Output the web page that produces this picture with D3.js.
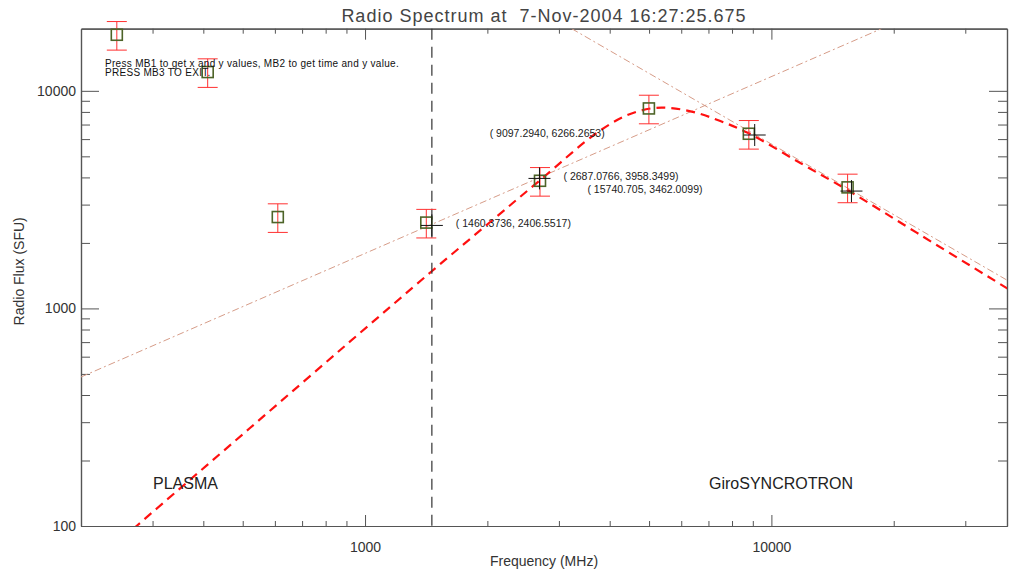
<!DOCTYPE html>
<html>
<head>
<meta charset="utf-8">
<script src="https://cdn.jsdelivr.net/npm/d3@7"></script>
<style>
  body { margin: 0; background: #fff; }
  svg { display: block; font-family: "Liberation Sans", Arial, sans-serif; }
  text { white-space: pre; }
</style>
</head>
<body>
<svg id="chart" width="1013" height="570"></svg>
<script>
// Observed spectrum (RSTN frequencies) with 15% uncertainties
const freqs   = [245, 410, 610, 1415, 2695, 4995, 8800, 15400];
const flux    = [18100, 12200, 2630, 2480, 3860, 8300, 6350, 3600];
const fluxErr = [2715, 1830, 395, 372, 579, 1245, 953, 540];

// Gyrosynchrotron fit curve
const fitFreq = [222, 274, 521, 919, 1462, 2032, 2698, 3686, 4369, 5036, 5638, 6500, 7487, 8774, 11786, 15390, 23280, 38800];
const fitFlux = [71, 100, 282, 705, 1486, 2495, 3890, 6332, 7660, 8292, 8337, 7950, 7263, 6397, 4656, 3500, 2173, 1209];

// Power-law segments (optically thick / thin)
const thickFreq = [200, 18660];
const thickFlux = [484, 19300];
const thinFreq  = [3226, 38000];
const thinFlux  = [19300, 1349];

// Plasma / gyrosynchrotron separation frequency
const cutFreq = 1460.3736;

// Cursor readouts
const pickFreq = [1460.3736, 2687.0766, 15740.705, 9097.2940];
const pickFlux = [2406.5517, 3958.3499, 3462.0099, 6266.2653];
const pickText = ["( 1460.3736, 2406.5517)", "( 2687.0766, 3958.3499)", "( 15740.705, 3462.0099)", "( 9097.2940, 6266.2653)"];

// Axis ticks
const xMajor = [1000, 10000];
const xMinor = [300, 400, 500, 600, 700, 800, 900, 2000, 3000, 4000, 5000, 6000, 7000, 8000, 9000, 20000, 30000];
const yMajor = [100, 1000, 10000];
const yMinor = [200, 300, 400, 500, 600, 700, 800, 900, 2000, 3000, 4000, 5000, 6000, 7000, 8000, 9000];
const xDomain = [200, 38000];
const yDomain = [100, 19300];

const title = "Radio Spectrum at  7-Nov-2004 16:27:25.675";
const xTitle = "Frequency (MHz)";
const yTitle = "Radio Flux (SFU)";
const helpLines = ["Press MB1 to get x and y values, MB2 to get time and y value.", "PRESS MB3 TO EXIT."];
const regionLabels = ["PLASMA", "GiroSYNCROTRON"];

// ---- layout ----
const L = 81, R = 1007, T = 28.7, B = 526;
const svg = d3.select("#chart");
const axisColor = "#555";
const textColor = "#333";

const x = d3.scaleLog().domain(xDomain).range([L, R]);
const y = d3.scaleLog().domain(yDomain).range([B, T]);

svg.append("rect").attr("width", 1013).attr("height", 570).attr("fill", "#fff");

svg.append("defs").append("clipPath").attr("id", "plot")
  .append("rect").attr("x", L).attr("y", T).attr("width", R - L).attr("height", B - T);

// ---- axes (ticks pointing inward on all four sides) ----
function styleAxis(g) {
  g.select(".domain").attr("stroke", axisColor).attr("stroke-width", 1.2);
  g.selectAll(".tick line").attr("stroke", axisColor).attr("stroke-width", 1);
  g.selectAll(".tick text").attr("fill", textColor).attr("font-size", 14)
    .attr("font-family", "Liberation Sans, Arial, sans-serif");
}
const noFmt = () => "";

svg.append("g").attr("transform", `translate(0,${B})`)
  .call(d3.axisBottom(x).tickValues(xMajor).tickSize(-11).tickSizeOuter(0).tickPadding(16).tickFormat(d3.format("d")))
  .call(styleAxis);
svg.append("g").attr("transform", `translate(0,${B})`)
  .call(d3.axisBottom(x).tickValues(xMinor).tickSize(-5).tickSizeOuter(0).tickFormat(noFmt))
  .call(styleAxis);
svg.append("g").attr("transform", `translate(0,${T})`)
  .call(d3.axisTop(x).tickValues(xMajor).tickSize(-11).tickSizeOuter(0).tickFormat(noFmt))
  .call(styleAxis);
svg.append("g").attr("transform", `translate(0,${T})`)
  .call(d3.axisTop(x).tickValues(xMinor).tickSize(-5).tickSizeOuter(0).tickFormat(noFmt))
  .call(styleAxis);

svg.append("g").attr("transform", `translate(${L},0)`)
  .call(d3.axisLeft(y).tickValues(yMajor).tickSize(-18).tickSizeOuter(0).tickPadding(5).tickFormat(d3.format("d")))
  .call(styleAxis);
svg.append("g").attr("transform", `translate(${L},0)`)
  .call(d3.axisLeft(y).tickValues(yMinor).tickSize(-9).tickSizeOuter(0).tickFormat(noFmt))
  .call(styleAxis);
svg.append("g").attr("transform", `translate(${R},0)`)
  .call(d3.axisRight(y).tickValues(yMajor).tickSize(-18).tickSizeOuter(0).tickFormat(noFmt))
  .call(styleAxis);
svg.append("g").attr("transform", `translate(${R},0)`)
  .call(d3.axisRight(y).tickValues(yMinor).tickSize(-9).tickSizeOuter(0).tickFormat(noFmt))
  .call(styleAxis);

// ---- titles ----
svg.append("text").attr("x", (L + R) / 2).attr("y", 22).attr("text-anchor", "middle")
  .attr("font-size", 18).attr("letter-spacing", 1).attr("fill", "#444").text(title);
svg.append("text").attr("x", (L + R) / 2).attr("y", 566).attr("text-anchor", "middle")
  .attr("font-size", 14).attr("fill", textColor).text(xTitle);
svg.append("text").attr("transform", `translate(24,${(T + B) / 2 - 6}) rotate(-90)`)
  .attr("text-anchor", "middle").attr("font-size", 14).attr("fill", textColor).text(yTitle);

// ---- curves ----
const plot = svg.append("g").attr("clip-path", "url(#plot)");
const line = d3.line().x(d => x(d[0])).y(d => y(d[1]));

plot.append("path")
  .datum(d3.zip(thickFreq, thickFlux))
  .attr("d", line).attr("fill", "none")
  .attr("stroke", "#d69c88").attr("stroke-width", 1).attr("stroke-dasharray", "7,3,2,3");
plot.append("path")
  .datum(d3.zip(thinFreq, thinFlux))
  .attr("d", line).attr("fill", "none")
  .attr("stroke", "#d69c88").attr("stroke-width", 1).attr("stroke-dasharray", "7,3,2,3");

plot.append("path")
  .datum(d3.zip(fitFreq, fitFlux))
  .attr("d", line.curve(d3.curveCatmullRom.alpha(0.5)))
  .attr("fill", "none").attr("stroke", "#ff1010").attr("stroke-width", 2.2)
  .attr("stroke-dasharray", "9,6");

// separation frequency
svg.append("line")
  .attr("x1", x(cutFreq)).attr("x2", x(cutFreq)).attr("y1", T).attr("y2", B)
  .attr("stroke", "#333").attr("stroke-width", 1.2).attr("stroke-dasharray", "11,7");

// ---- data points with error bars ----
const pts = d3.range(freqs.length).map(i => ({ f: freqs[i], s: flux[i], e: fluxErr[i] }));
const eb = svg.append("g").attr("stroke", "#ff3030").attr("stroke-width", 1);
eb.selectAll(".v").data(pts).join("line")
  .attr("x1", d => x(d.f)).attr("x2", d => x(d.f))
  .attr("y1", d => y(d.s + d.e)).attr("y2", d => y(d.s - d.e));
eb.selectAll(".t").data(pts).join("line")
  .attr("x1", d => x(d.f) - 10).attr("x2", d => x(d.f) + 10)
  .attr("y1", d => y(d.s + d.e)).attr("y2", d => y(d.s + d.e));
eb.selectAll(".b").data(pts).join("line")
  .attr("x1", d => x(d.f) - 10).attr("x2", d => x(d.f) + 10)
  .attr("y1", d => y(d.s - d.e)).attr("y2", d => y(d.s - d.e));

svg.append("g").selectAll("rect").data(pts).join("rect")
  .attr("x", d => x(d.f) - 5.5).attr("y", d => y(d.s) - 5.5)
  .attr("width", 11).attr("height", 11)
  .attr("fill", "none").attr("stroke", "#4d6428").attr("stroke-width", 1.6);

// ---- cursor readouts ----
const labelDx = [24, 24, -264, -265];
const picks = d3.range(pickFreq.length).map(i => ({ f: pickFreq[i], s: pickFlux[i], t: pickText[i], dx: labelDx[i] }));
const cross = svg.append("g").attr("stroke", "#111").attr("stroke-width", 1);
cross.selectAll(".h").data(picks).join("line")
  .attr("x1", d => x(d.f) - 11).attr("x2", d => x(d.f) + 11)
  .attr("y1", d => y(d.s)).attr("y2", d => y(d.s));
cross.selectAll(".v").data(picks).join("line")
  .attr("x1", d => x(d.f)).attr("x2", d => x(d.f))
  .attr("y1", d => y(d.s) - 11).attr("y2", d => y(d.s) + 11);
svg.append("g").selectAll("text").data(picks).join("text")
  .attr("x", d => x(d.f) + d.dx).attr("y", d => y(d.s) + 2)
  .attr("font-size", 10.5).attr("fill", "#222").text(d => d.t);

// ---- instructions and region labels ----
svg.append("g").selectAll("text").data(helpLines).join("text")
  .attr("x", 105).attr("y", (d, i) => 67 + i * 8.5)
  .attr("font-size", 10).attr("letter-spacing", 0.3).attr("fill", "#111").text(d => d);

svg.append("text").attr("x", 153).attr("y", 489).attr("font-size", 16).attr("fill", "#222").text(regionLabels[0]);
svg.append("text").attr("x", 709).attr("y", 489).attr("font-size", 16).attr("fill", "#222").text(regionLabels[1]);
</script>
</body>
</html>
